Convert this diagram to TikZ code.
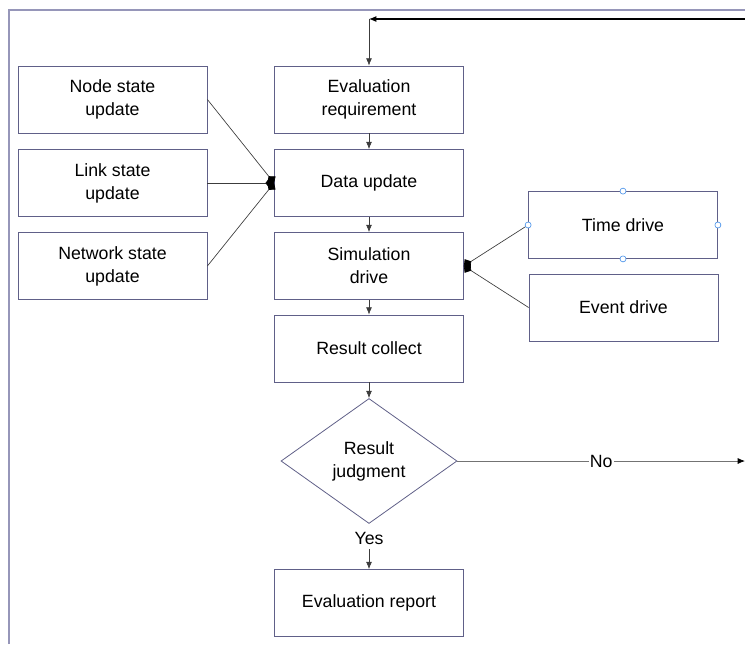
\documentclass[tikz,border=0pt]{standalone}
\usepackage{fontspec}
\setmainfont{Liberation Sans}
\usepackage{tikz}
\usetikzlibrary{arrows.meta}
\usetikzlibrary{shapes.geometric}
\definecolor{boxc}{RGB}{96,96,136}
\definecolor{framec}{RGB}{150,150,185}
\definecolor{linec}{RGB}{60,60,60}
\definecolor{handc}{RGB}{80,150,235}
\tikzset{b/.style={draw=boxc,line width=0.6pt,minimum width=141.75pt,minimum height=50.25pt,align=center,inner sep=0pt}}
\tikzset{j/.style={draw=boxc,line width=0.6pt,shape=diamond,minimum width=132pt,minimum height=93.75pt,align=center,inner sep=0pt}}
\tikzset{h/.style={circle,draw=handc,fill=white,inner sep=0pt,minimum size=4.5pt,line width=0.5pt}}
\tikzset{cn/.style={draw=linec,line width=0.5pt}}
\tikzset{dm/.style={-{Diamond[length=6.5pt,width=8pt,black]}}}

\begin{document}
\begin{tikzpicture}[x=0.75pt,y=-0.75pt,>={Latex[length=5.5pt,width=4.5pt]}]
            \useasboundingbox (0,0) rectangle (745,644);
            \draw[framec,line width=1pt] (9,644) -- (9,10) -- (745,10);
            \begin{scope}[font=\fontsize{13.3}{17.2}\selectfont]
              \node[b] (evalreq) at (369,99.5) {Evaluation\\requirement};
              \node[b] (data) at (369,183) {Data update}
                edge [<-, cn] (evalreq);
              \node[b] (sim) at (369,266) {Simulation\\drive}
                edge [<-, cn] (data);
              \node[b] (collect) at (369,348.5) {Result collect}
                edge [<-, cn] (sim);
              \node[j] (judge) at (369,461) {Result\\judgment}
                edge [<-, cn] (collect);
              \node (yes) at (369,538.5) {Yes};
              \node[b] (report) at (369,603) {Evaluation report}
                edge [<-, cn] (yes);
              \node[b] (nodest) at (112.5,99.5) {Node state\\update};
              \node[b] (linkst) at (112.5,183) {Link state\\update};
              \node[b] (netst) at (112.5,266) {Network state\\update};
              \node[b] (timedr) at (623,225) {Time drive};
              \node[b] (eventdr) at (623.5,307.5) {Event drive};
              % inputs meet on the left and right sides
              \draw[dm, cn] (nodest.east) -- (data.west);
              \draw[dm, cn] (linkst.east) -- (data.west);
              \draw[dm, cn] (netst.east) -- (data.west);
              \draw[dm, cn] (timedr.west) -- (sim.east);
              \draw[dm, cn] (eventdr.west) -- (sim.east);
              % feedback loop and the No branch run off the right edge
              \coordinate (loopr) at (745,19);
              \coordinate (loopc) at (369,19);
              \coordinate (noend) at (745,461);
              \draw[->,line width=0.8pt] (loopr) -- (loopc);
              \draw[->,cn] (loopc) -- (evalreq);
              \draw[-{Latex[length=5.5pt,width=4.5pt,black]},draw=gray!90!black,line width=0.6pt] (judge) -- node[fill=white,inner sep=1pt] {No} (noend);
              % selection handles
              \foreach \a in {north,south,east,west}
                \node[h] at (timedr.\a) {};
            \end{scope}
          \end{tikzpicture}
\end{document}
